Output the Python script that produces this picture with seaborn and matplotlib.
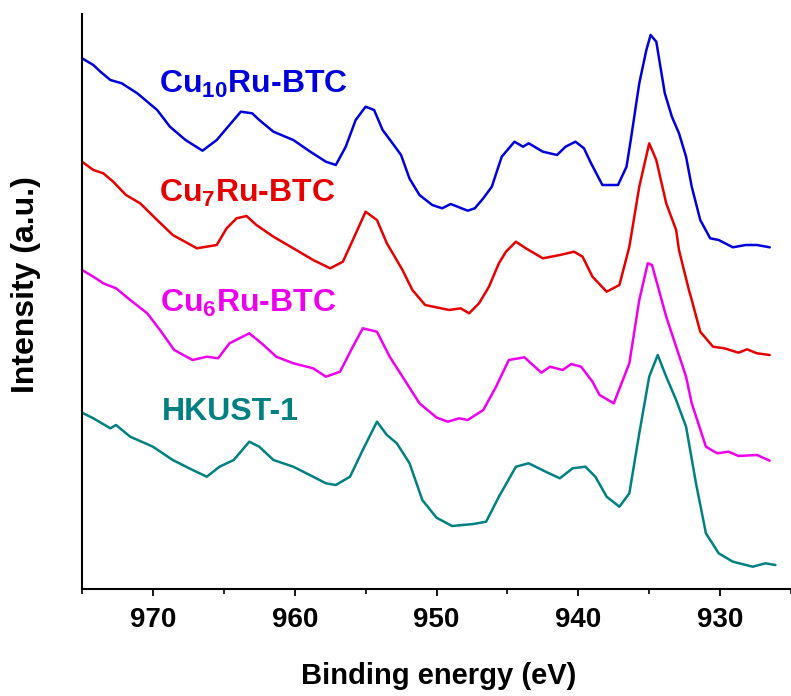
import numpy as np
import pandas as pd
import matplotlib
matplotlib.use("Agg")
import matplotlib.pyplot as plt
from matplotlib.ticker import MultipleLocator
import seaborn as sns

# ---- data (binding energy in eV, intensity in arbitrary units) ----
cu10_e = [975.0, 974.2, 973.7, 973.0, 972.2, 971.1, 969.7, 968.8, 967.7, 966.5, 965.5, 964.6,
          963.8, 963.0, 962.5, 961.5, 960.1, 958.9, 957.8, 957.1, 956.4, 955.7, 955.0, 954.4,
          953.8, 953.1, 952.5, 951.9, 951.2, 950.3, 949.6, 949.0, 947.8, 947.3, 946.7, 946.1,
          945.4, 944.5, 943.9, 943.5, 942.5, 941.5, 940.9, 940.2, 939.6, 939.1, 938.3, 937.2,
          936.6, 936.3, 935.7, 935.2, 934.9, 934.5, 933.9, 933.4, 932.9, 932.4, 932.0, 931.4,
          930.7, 930.1, 929.1, 928.2, 927.4, 926.5]
cu10_i = [530.7, 524.0, 517.3, 509.0, 505.7, 495.7, 479.0, 462.3, 449.0, 438.3, 449.0, 464.0,
          477.3, 475.7, 469.0, 457.3, 449.0, 437.3, 427.3, 424.0, 442.3, 469.0, 482.3, 479.0,
          459.0, 445.7, 434.0, 410.3, 394.0, 384.0, 380.7, 385.0, 378.3, 380.7, 390.7, 402.3,
          432.3, 447.3, 442.3, 445.7, 437.3, 434.0, 442.3, 447.3, 440.7, 425.7, 404.0, 404.0,
          422.3, 449.0, 505.7, 539.0, 554.0, 547.3, 495.7, 472.3, 455.7, 432.3, 402.3, 369.0,
          350.7, 349.0, 341.7, 344.0, 344.0, 341.7]

cu7_e = [975.0, 974.2, 973.5, 972.8, 971.9, 970.9, 969.7, 968.6, 966.9, 965.5, 964.8, 964.1,
         963.4, 962.7, 961.5, 960.1, 958.7, 957.5, 956.6, 955.9, 955.0, 954.2, 953.5, 952.4,
         951.7, 950.8, 949.1, 948.3, 947.7, 947.0, 946.3, 945.6, 945.1, 944.4, 943.7, 942.5,
         941.3, 940.3, 939.7, 939.0, 938.0, 937.1, 936.4, 935.7, 935.0, 934.5, 933.8, 933.1,
         932.9, 932.2, 932.0, 931.4, 930.5, 929.7, 928.7, 928.1, 927.4, 926.5]
cu7_i = [427.3, 419.0, 415.7, 407.3, 394.0, 385.7, 369.0, 354.0, 340.7, 344.0, 360.7, 370.7,
         373.0, 364.0, 352.3, 340.7, 329.0, 320.7, 327.3, 349.0, 377.3, 369.0, 345.7, 319.0,
         299.0, 284.0, 279.0, 280.7, 275.7, 285.7, 302.3, 325.7, 337.3, 347.3, 340.7, 330.7,
         334.0, 337.3, 332.3, 312.3, 297.3, 304.0, 342.3, 402.3, 445.7, 429.0, 385.7, 359.0,
         339.0, 299.0, 289.0, 257.3, 242.3, 240.7, 236.3, 239.7, 235.7, 234.0]

cu6_e = [975.0, 974.2, 973.5, 972.6, 971.6, 970.4, 969.5, 968.5, 967.2, 966.2, 965.4, 964.6,
         963.2, 962.2, 961.3, 960.1, 958.7, 957.8, 956.8, 955.9, 955.2, 954.2, 953.3, 952.1,
         951.2, 950.0, 949.2, 948.4, 947.8, 946.7, 945.8, 944.9, 943.8, 942.6, 942.0, 941.1,
         940.5, 939.8, 939.0, 938.5, 937.5, 936.4, 935.7, 935.1, 934.8, 933.8, 933.1, 932.4,
         932.0, 931.0, 930.2, 929.4, 928.7, 927.4, 926.5]
cu6_i = [319.0, 312.3, 305.7, 300.7, 289.0, 275.7, 259.0, 239.0, 229.0, 232.3, 230.7, 245.7,
         255.7, 244.0, 232.3, 225.7, 220.7, 212.3, 217.3, 242.3, 260.7, 257.3, 232.3, 205.7,
         185.7, 171.5, 167.3, 170.7, 169.0, 179.0, 202.3, 229.0, 231.7, 216.3, 222.3, 219.0,
         225.0, 222.3, 207.3, 194.0, 185.7, 225.7, 289.0, 325.7, 324.0, 272.3, 242.3, 212.3,
         185.7, 142.3, 135.7, 137.3, 133.0, 134.0, 128.3]

hk_e = [975.0, 974.2, 973.0, 972.6, 971.6, 970.0, 968.6, 967.2, 966.2, 965.3, 964.3, 963.2,
        962.5, 961.5, 960.1, 958.7, 957.8, 957.1, 956.1, 955.2, 954.2, 953.5, 952.8, 951.9,
        951.0, 950.0, 948.9, 947.4, 946.5, 945.6, 944.4, 943.5, 942.3, 941.3, 940.4, 939.5,
        938.8, 938.0, 937.1, 936.4, 935.7, 935.0, 934.4, 933.8, 933.1, 932.4, 931.7, 931.0,
        930.1, 929.1, 927.7, 926.8, 926.1]
hk_i = [176.3, 170.7, 160.7, 164.0, 152.3, 142.3, 129.0, 119.0, 112.3, 122.3, 129.0, 147.3,
        142.3, 129.0, 122.3, 112.3, 105.7, 104.0, 112.3, 139.0, 167.3, 154.0, 145.7, 125.7,
        89.0, 71.3, 63.0, 65.0, 67.3, 92.3, 122.3, 125.7, 117.3, 110.7, 120.7, 122.3,
        112.3, 92.3, 82.3, 95.7, 155.7, 212.3, 234.0, 212.3, 189.0, 162.3, 105.7, 55.7,
        35.7, 27.3, 22.3, 25.7, 24.0]

sample_names = ["Cu10Ru-BTC", "Cu7Ru-BTC", "Cu6Ru-BTC", "HKUST-1"]
label_texts = ["Cu$_{10}$Ru-BTC", "Cu$_{7}$Ru-BTC", "Cu$_{6}$Ru-BTC", "HKUST-1"]
label_x = [969.6, 969.6, 969.5, 969.4]
label_y = [496, 387, 277, 169]
colors = ["#0000DD", "#E60000", "#EE00EE", "#008080"]

xticks_major = [970, 960, 950, 940, 930]

# ---- build long-form table ----
frames = []
for name, e, i in zip(sample_names, [cu10_e, cu7_e, cu6_e, hk_e], [cu10_i, cu7_i, cu6_i, hk_i]):
    frames.append(pd.DataFrame({"energy": e, "intensity": i, "sample": name}))
df = pd.concat(frames, ignore_index=True)

sns.set_style("white")
plt.rcParams["font.family"] = ["Liberation Sans", "DejaVu Sans"]
plt.rcParams["font.weight"] = "bold"
plt.rcParams["text.color"] = "black"
plt.rcParams["axes.labelcolor"] = "black"
plt.rcParams["xtick.color"] = "black"
plt.rcParams["ytick.color"] = "black"
plt.rcParams["mathtext.fontset"] = "custom"
plt.rcParams["mathtext.rm"] = "Liberation Sans:bold"
plt.rcParams["mathtext.it"] = "Liberation Sans:bold"
plt.rcParams["mathtext.bf"] = "Liberation Sans:bold"

fig = plt.figure(figsize=(7.91, 6.96), dpi=100)
ax = fig.add_axes([82 / 791, 1 - 589 / 696, 709 / 791, 575 / 696])

sns.lineplot(data=df, x="energy", y="intensity", hue="sample", hue_order=sample_names,
             palette=dict(zip(sample_names, colors)), estimator=None, sort=False,
             linewidth=1.8, legend=False, ax=ax)

for txt, lx, ly, c in zip(label_texts, label_x, label_y, colors):
    ax.text(lx, ly, txt, color=c, fontsize=23, fontweight="bold", va="baseline", ha="left")

ax.set_xlim(975, 925)
ax.set_ylim(0, 575)
ax.set_xticks(xticks_major)
ax.xaxis.set_minor_locator(MultipleLocator(5))
ax.set_yticks([])

for s in ["top", "right"]:
    ax.spines[s].set_visible(False)
for s in ["left", "bottom"]:
    ax.spines[s].set_linewidth(1.5)
    ax.spines[s].set_color("black")

ax.tick_params(axis="x", which="major", direction="out", length=5, width=1.3,
               labelsize=20, pad=8, labelcolor="black", color="black", bottom=True)
ax.tick_params(axis="x", which="minor", direction="out", length=3.5, width=1.2,
               color="black", bottom=True)
for lbl in ax.get_xticklabels():
    lbl.set_fontweight("bold")

ax.set_xlabel("Binding energy (eV)", fontsize=21, fontweight="bold", va="top", color="black")
ax.xaxis.set_label_coords(0.5035, -0.127)
ax.set_ylabel("Intensity (a.u.)", fontsize=23, fontweight="bold", color="black")
ax.yaxis.set_label_coords(-0.058, 0.53)

fig.savefig("out.png", dpi=100, facecolor="white")
